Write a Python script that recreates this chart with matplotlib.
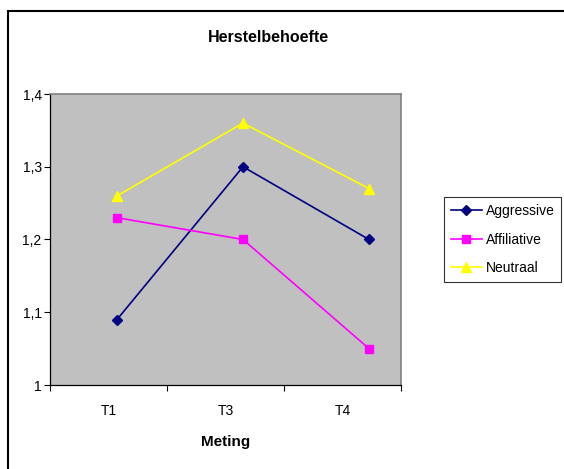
import matplotlib.pyplot as plt
from matplotlib.patches import Rectangle
from matplotlib.ticker import FuncFormatter

plt.rcParams['font.family'] = ['Liberation Sans', 'DejaVu Sans']

metingen = ['T1', 'T3', 'T4']
aggressive = [1.09, 1.30, 1.20]
affiliative = [1.23, 1.20, 1.05]
neutraal = [1.26, 1.36, 1.27]

fig = plt.figure(figsize=(5.64, 4.69), dpi=100)
ax = fig.add_axes([50 / 564, 1 - 385 / 469, 351 / 564, 291 / 469])
ax.set_facecolor('#C0C0C0')

x = range(len(metingen))
ax.plot(x, aggressive, color='#000080', marker='D', markersize=5, lw=1.2, label='Aggressive')
ax.plot(x, affiliative, color='#FF00FF', marker='s', markersize=6, lw=1.2, label='Affiliative')
ax.plot(x, neutraal, color='#FFFF00', marker='^', markersize=7, lw=1.2, label='Neutraal')

# category bands: ticks on the band edges, labels in the middle
lo, hi = -0.532, 2.254
ax.set_xlim(lo, hi)
step = (hi - lo) / 3
ax.set_xticks([lo + k * step for k in range(4)])
ax.set_xticklabels([])
ax.set_xticks([lo + (k + 0.5) * step for k in range(3)], minor=True)
ax.set_xticklabels(metingen, minor=True, fontsize=10)
ax.tick_params(axis='x', which='minor', length=0, pad=14)
ax.tick_params(axis='x', which='major', length=4, direction='out', width=0.8)

ax.set_ylim(1, 1.4)
ax.set_yticks([1, 1.1, 1.2, 1.3, 1.4])
ax.yaxis.set_major_formatter(FuncFormatter(lambda v, p: ('%g' % round(v, 1)).replace('.', ',')))
ax.tick_params(axis='y', length=4, direction='out', width=0.8, labelsize=10, pad=2)

for s in ['top', 'right']:
    ax.spines[s].set_color('#808080')
    ax.spines[s].set_linewidth(1.2)
for s in ['left', 'bottom']:
    ax.spines[s].set_color('black')
    ax.spines[s].set_linewidth(0.9)

ax.set_xlabel('Meting', fontsize=11, fontweight='bold', labelpad=12)
fig.text(268 / 564, 1 - 37 / 469, 'Herstelbehoefte', ha='center', va='center',
         fontsize=11.5, fontweight='bold')

leg = fig.legend(loc='upper left', bbox_to_anchor=(444 / 564, 1 - 197 / 469),
                 fontsize=10, frameon=True, fancybox=False, edgecolor='black',
                 borderpad=0.5, labelspacing=1.05, handlelength=2.2, handletextpad=0.3,
                 borderaxespad=0)
leg.get_frame().set_linewidth(0.8)

# outer chart border
fig.patches.append(Rectangle((8 / 564, -0.05), 1.0, 1 - 11 / 469 + 0.05,
                             transform=fig.transFigure, fill=False,
                             edgecolor='black', linewidth=1.5))

fig.savefig('out.png', dpi=100)
